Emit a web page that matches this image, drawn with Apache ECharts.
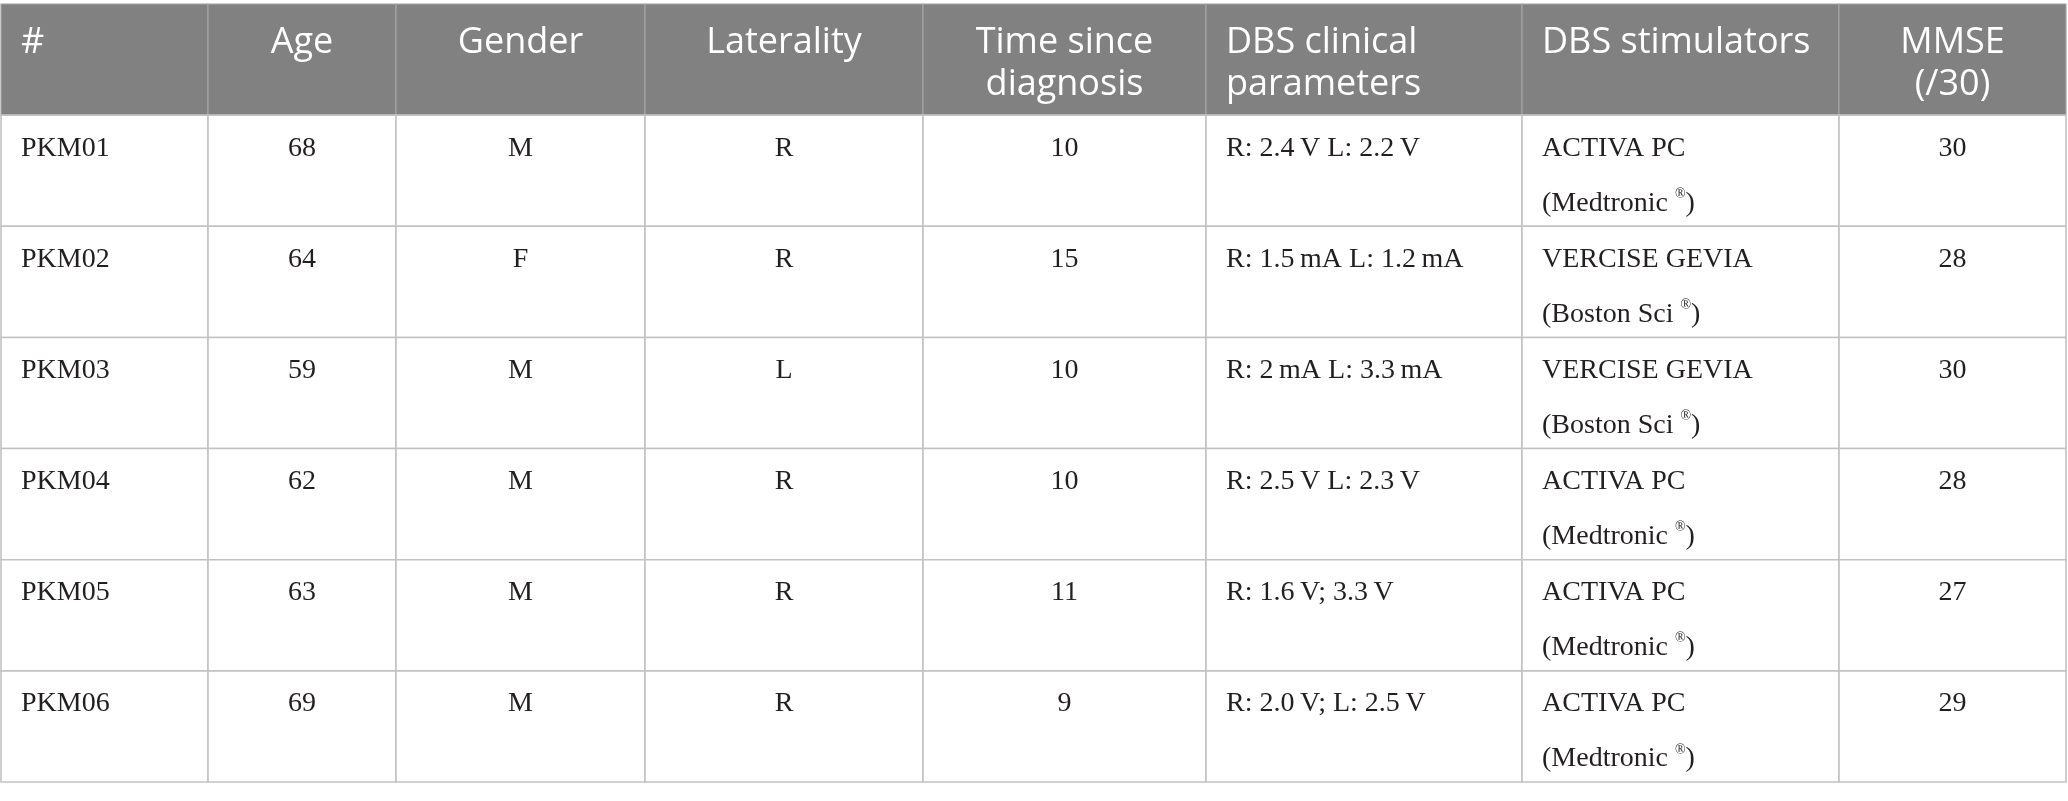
<!DOCTYPE html>
<html>
<head>
<meta charset="utf-8">
<title>DBS patients table</title>
<script src="https://cdn.jsdelivr.net/npm/echarts@6/dist/echarts.min.js"></script>
<style>
  html, body { margin: 0; padding: 0; background: #fff; }
  #chart { width: 2068px; height: 801px; }
</style>
</head>
<body>
<div id="chart"></div>
<script>
// table content
const headers = ['#', 'Age', 'Gender', 'Laterality', 'Time since\ndiagnosis', 'DBS clinical\nparameters', 'DBS stimulators', 'MMSE\n(/30)'];
const patients = ['PKM01', 'PKM02', 'PKM03', 'PKM04', 'PKM05', 'PKM06'];
const ages = [68, 64, 59, 62, 63, 69];
const genders = ['M', 'F', 'M', 'M', 'M', 'M'];
const laterality = ['R', 'R', 'L', 'R', 'R', 'R'];
const yearsSinceDiagnosis = [10, 15, 10, 10, 11, 9];
const dbsParameters = [
  'R: 2.4\u2009V L: 2.2\u2009V',
  'R: 1.5\u2009mA L: 1.2\u2009mA',
  'R: 2\u2009mA L: 3.3\u2009mA',
  'R: 2.5\u2009V L: 2.3\u2009V',
  'R: 1.6\u2009V; 3.3\u2009V',
  'R: 2.0\u2009V; L: 2.5\u2009V'
];
const stimulatorModels = ['ACTIVA PC', 'VERCISE GEVIA', 'VERCISE GEVIA', 'ACTIVA PC', 'ACTIVA PC', 'ACTIVA PC'];
const stimulatorMakers = ['Medtronic', 'Boston Sci', 'Boston Sci', 'Medtronic', 'Medtronic', 'Medtronic'];
const mmse = [30, 28, 30, 28, 27, 29];

// layout
const colWidths = [207, 188, 249, 278, 283, 316, 317, 227];
const colAlign = ['left', 'center', 'center', 'center', 'center', 'left', 'left', 'center'];

const colEdges = [0];
colWidths.forEach(w => colEdges.push(colEdges[colEdges.length - 1] + w));

const HEAD_FONT = '"Open Sans", "Noto Sans", sans-serif';
const BODY_FONT = '"Liberation Serif", "DejaVu Serif", serif';

function bodyText(col, row) {
  switch (col) {
    case 0: return patients[row];
    case 1: return String(ages[row]);
    case 2: return genders[row];
    case 3: return laterality[row];
    case 4: return String(yearsSinceDiagnosis[row]);
    case 5: return dbsParameters[row];
    case 6: return '{m|' + stimulatorModels[row] + '}\n{m|(' + stimulatorMakers[row] + ' }{sup|®}{m|)}';
    case 7: return String(mmse[row]);
  }
  return '';
}

const cells = [];
for (let r = 0; r <= patients.length; r++) {
  for (let c = 0; c < headers.length; c++) cells.push([c, r]);
}

function renderCell(params, api) {
  const c = api.value(0);
  const r = api.value(1);
  const p0 = api.coord([colEdges[c], r]);
  const p1 = api.coord([colEdges[c + 1], r + 1]);
  const isHead = r === 0;
  const align = colAlign[c];
  const tx = align === 'left' ? p0[0] + 20 : (p0[0] + p1[0]) / 2;

  const rect = {
    type: 'rect',
    shape: { x: p0[0], y: p0[1], width: p1[0] - p0[0], height: p1[1] - p0[1] },
    style: isHead
      ? { fill: '#808180', stroke: '#a4a4a4', lineWidth: 1.2 }
      : { fill: '#ffffff', stroke: '#c2c2c2', lineWidth: 1.6 }
  };

  let text;
  if (isHead) {
    text = {
      type: 'text',
      style: {
        text: headers[c], x: tx, y: p0[1] + 17.5, align: align, verticalAlign: 'top',
        font: '36px ' + HEAD_FONT, lineHeight: 42, fill: '#ffffff'
      }
    };
  } else {
    text = {
      type: 'text',
      style: {
        text: bodyText(c, r - 1), x: tx, y: p0[1] + 5.5, align: align, verticalAlign: 'top',
        font: '28px ' + BODY_FONT, lineHeight: 55, fill: '#231f20',
        rich: {
          m: { fontSize: 28, fontFamily: BODY_FONT, lineHeight: 55, fill: '#231f20' },
          sup: { fontSize: 14, fontFamily: BODY_FONT, padding: [0, 0, 18, 0], fill: '#231f20' }
        }
      }
    };
  }
  return { type: 'group', children: [rect, text] };
}

const chart = echarts.init(document.getElementById('chart'), null, { renderer: 'canvas' });

chart.setOption({
  animation: false,
  backgroundColor: '#ffffff',
  grid: { left: 1, top: 4, width: colEdges[colEdges.length - 1], bottom: 19, containLabel: false },
  xAxis: {
    type: 'value', min: 0, max: colEdges[colEdges.length - 1],
    show: false
  },
  yAxis: {
    type: 'value', min: 0, max: patients.length + 1, inverse: true,
    show: false
  },
  series: [{
    type: 'custom',
    renderItem: renderCell,
    data: cells,
    encode: { x: 0, y: 1 },
    silent: true,
    clip: false
  }]
});
</script>
</body>
</html>
